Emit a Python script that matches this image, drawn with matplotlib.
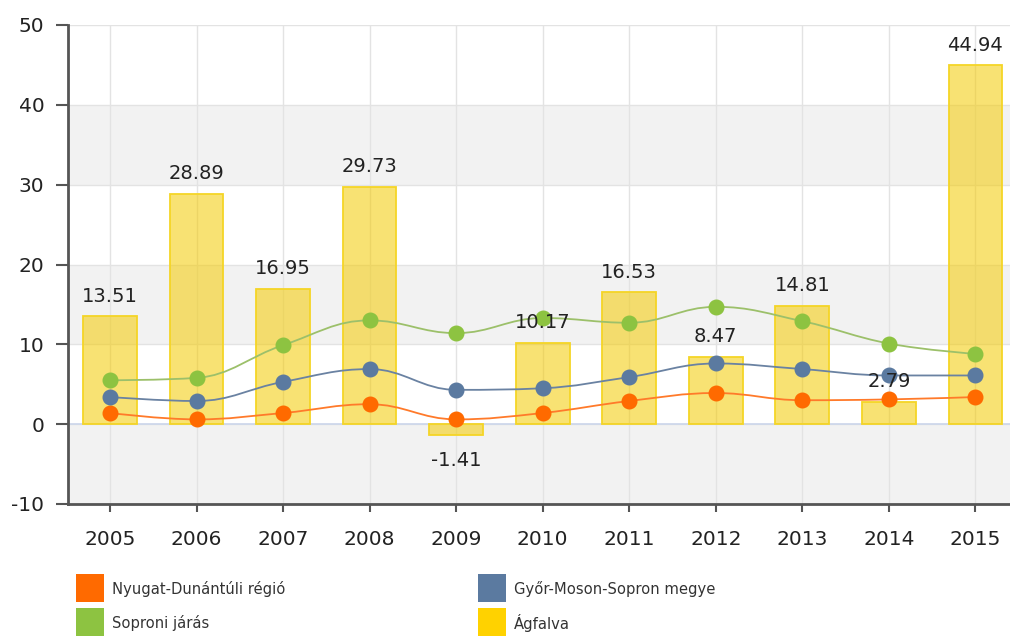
import numpy as np
import matplotlib
matplotlib.use("Agg")
import matplotlib.pyplot as plt
from matplotlib.path import Path
from matplotlib.patches import PathPatch, Rectangle

plt.rcParams["axes.unicode_minus"] = False

years = ["2005", "2006", "2007", "2008", "2009", "2010", "2011", "2012", "2013", "2014", "2015"]
agfalva = [13.51, 28.89, 16.95, 29.73, -1.41, 10.17, 16.53, 8.47, 14.81, 2.79, 44.94]
nyugat = [1.4, 0.6, 1.4, 2.5, 0.6, 1.4, 2.9, 3.9, 3.0, 3.1, 3.4]
gyor = [3.4, 2.9, 5.3, 6.9, 4.3, 4.5, 5.9, 7.6, 6.9, 6.1, 6.1]
soproni = [5.5, 5.8, 9.9, 13.0, 11.4, 13.3, 12.7, 14.7, 12.9, 10.1, 8.8]
yticks = [-10, 0, 10, 20, 30, 40, 50]
series_names = ["Nyugat-Dunántúli régió", "Győr-Moson-Sopron megye", "Soproni járás", "Ágfalva"]

c_orange = "#FF6A00"
c_blue = "#5B7AA0"
c_green = "#8DC341"
c_yellow = "#FFD200"

W, H = 1010, 641
fig = plt.figure(figsize=(W / 100, H / 100), dpi=100)
ax = fig.add_axes([68 / W, 1 - 504 / H, (1010 - 68) / W, (504 - 25) / H])

x = np.arange(len(years))
ax.set_xlim(-0.486, 10.40)
ax.set_ylim(-10, 50)

# alternating bands
for i, (lo, hi) in enumerate(zip(yticks[:-1], yticks[1:])):
    if i % 2 == 0:
        ax.axhspan(lo, hi, color="#F2F2F2", zorder=0, lw=0)
for yv in yticks:
    ax.axhline(yv, color="#E3E3E3", lw=1, zorder=0.5)
for xi in x:
    ax.axvline(xi, color="#E3E3E3", lw=1, zorder=0.5)
ax.axhline(0, color="#CCD6EB", lw=1.2, zorder=0.6)

# bars
ax.bar(x, agfalva, width=0.62, color="#F4CB00", alpha=0.55, zorder=1, lw=0)
ax.bar(x, agfalva, width=0.62, facecolor="none", edgecolor="#F5D526", lw=1.3, zorder=1.1)


def spline_path(xs, ys, smoothing=1.5):
    n = len(xs)
    lefts = [None] * n
    rights = [None] * n
    for i in range(n):
        px, py = xs[i], ys[i]
        if i == 0 or i == n - 1:
            lefts[i] = (px, py)
            rights[i] = (px, py)
            continue
        lx, ly = xs[i - 1], ys[i - 1]
        nx, ny = xs[i + 1], ys[i + 1]
        d = smoothing + 1
        lcx = (smoothing * px + lx) / d
        lcy = (smoothing * py + ly) / d
        rcx = (smoothing * px + nx) / d
        rcy = (smoothing * py + ny) / d
        if rcx != lcx:
            corr = ((rcy - lcy) * (rcx - px)) / (rcx - lcx) + py - rcy
            lcy += corr
            rcy += corr
        if lcy > ly and lcy > py:
            lcy = max(ly, py)
            rcy = 2 * py - lcy
        elif lcy < ly and lcy < py:
            lcy = min(ly, py)
            rcy = 2 * py - lcy
        if rcy > ny and rcy > py:
            rcy = max(ny, py)
            lcy = 2 * py - rcy
        elif rcy < ny and rcy < py:
            rcy = min(ny, py)
            lcy = 2 * py - rcy
        lefts[i] = (lcx, lcy)
        rights[i] = (rcx, rcy)
    verts = [(xs[0], ys[0])]
    codes = [Path.MOVETO]
    for i in range(1, n):
        verts += [rights[i - 1], lefts[i], (xs[i], ys[i])]
        codes += [Path.CURVE4] * 3
    return Path(verts, codes)


for vals, col, lc in [(nyugat, c_orange, "#FF7A2A"), (gyor, c_blue, "#6A82A2"), (soproni, c_green, "#9CC06A")]:
    p = spline_path(list(x.astype(float)), list(vals))
    ax.add_patch(PathPatch(p, facecolor="none", edgecolor=lc, lw=1.3, zorder=3))
    ax.plot(x, vals, "o", color=col, ms=10.5, mec=col, zorder=4, linestyle="none")

# data labels
for xi, v in zip(x, agfalva):
    if v >= 0:
        ax.annotate(f"{v:.2f}", (xi, v), xytext=(0, 14.5), textcoords="offset points",
                    ha="center", va="center", fontsize=14, color="#222222", zorder=6)
    else:
        ax.annotate(f"{v:.2f}", (xi, v), xytext=(0, -18), textcoords="offset points",
                    ha="center", va="center", fontsize=14, color="#222222", zorder=6)

ax.set_xticks(x)
ax.set_xticklabels(years)
ax.set_yticks(yticks)
ax.tick_params(axis="x", length=6, width=1.5, color="#555555", pad=13, labelsize=14.5, labelcolor="#222222")
ax.tick_params(axis="y", length=9, width=1.5, color="#555555", pad=8, labelsize=14.5, labelcolor="#222222")
for s in ["top", "right"]:
    ax.spines[s].set_visible(False)
for s in ["left", "bottom"]:
    ax.spines[s].set_color("#555555")
    ax.spines[s].set_linewidth(2)

# legend
leg = [(76, 574, c_orange, series_names[0]), (478, 574, c_blue, series_names[1]),
       (76, 608, c_green, series_names[2]), (478, 608, c_yellow, series_names[3])]
for lx, ly, col, name in leg:
    fig.patches.append(Rectangle((lx / W, 1 - (ly + 28) / H), 28 / W, 28 / H,
                                 transform=fig.transFigure, color=col, lw=0))
    fig.text((lx + 36) / W, 1 - (ly + 15) / H, name, fontsize=10.6, color="#333333",
             ha="left", va="center")

fig.savefig("out.png", dpi=100)
